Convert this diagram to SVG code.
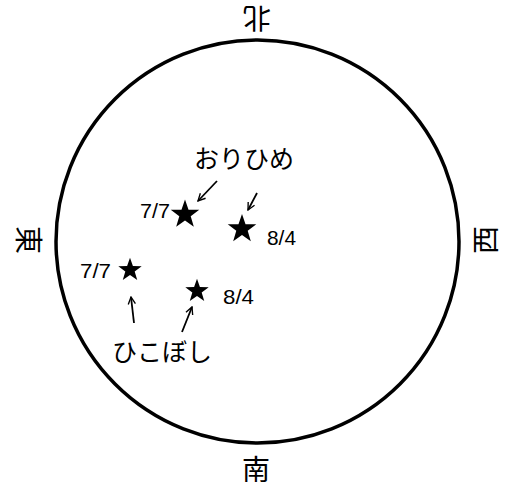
<svg xmlns="http://www.w3.org/2000/svg" width="512" height="488" viewBox="0 0 512 488">
<style>
.dir{font-family:"Noto Sans CJK JP",sans-serif;font-size:28px;fill:#000;text-anchor:middle;dominant-baseline:central}
.lbl{font-family:"Noto Sans CJK JP",sans-serif;font-size:25px;fill:#000;text-anchor:middle}
.num{font-family:"Liberation Sans Narrow","Liberation Sans",sans-serif;font-size:21px;fill:#000}
.arr{stroke:#000;stroke-width:1.8;fill:none;marker-end:url(#ah)}
.star{fill:#000}
</style>
<defs>
<marker id="ah" viewBox="0 0 10 10" refX="9" refY="5" markerWidth="9" markerHeight="9" markerUnits="userSpaceOnUse" orient="auto">
<path d="M1,1 L9,5 L1,9" fill="none" stroke="#000" stroke-width="1.5"/>
</marker>
<path id="st" d="M0,-15 L3.527,-4.854 L14.266,-4.635 L5.706,1.854 L8.817,12.135 L0,6 L-8.817,12.135 L-5.706,1.854 L-14.266,-4.635 L-3.527,-4.854 Z"/>
</defs>
<g id="sky">
<circle cx="257.5" cy="241.5" r="201.5" fill="none" stroke="#000" stroke-width="3.5"/>
</g>
<g id="north"><text class="dir" transform="translate(257,20) rotate(180)">北</text></g>
<g id="south"><text class="dir" transform="translate(256,468)">南</text></g>
<g id="east"><text class="dir" transform="translate(30,240) rotate(90)">東</text></g>
<g id="west"><text class="dir" transform="translate(484,240) rotate(-90)">西</text></g>
<g id="orihime">
<text class="lbl" x="244" y="168">おりひめ</text>
<use href="#st" class="star" transform="translate(185,214.5)"/>
<text class="num" x="140" y="218" textLength="30" lengthAdjust="spacingAndGlyphs">7/7</text>
<use href="#st" class="star" transform="translate(242,229)"/>
<text class="num" x="267" y="245" textLength="29" lengthAdjust="spacingAndGlyphs">8/4</text>
</g>
<g id="hikoboshi">
<text class="lbl" x="162" y="361">ひこぼし</text>
<use href="#st" class="star" transform="translate(130,270) scale(0.82)"/>
<text class="num" x="80" y="278" textLength="31" lengthAdjust="spacingAndGlyphs">7/7</text>
<use href="#st" class="star" transform="translate(197,291) scale(0.82)"/>
<text class="num" x="223" y="304" textLength="31" lengthAdjust="spacingAndGlyphs">8/4</text>
</g>
<g id="connectors">
<line class="arr" x1="217" y1="181" x2="198" y2="201"/>
<line class="arr" x1="257" y1="193" x2="248" y2="210"/>
<line class="arr" x1="134" y1="323" x2="131" y2="297"/>
<line class="arr" x1="182" y1="332" x2="192" y2="307"/>
</g>
</svg>
